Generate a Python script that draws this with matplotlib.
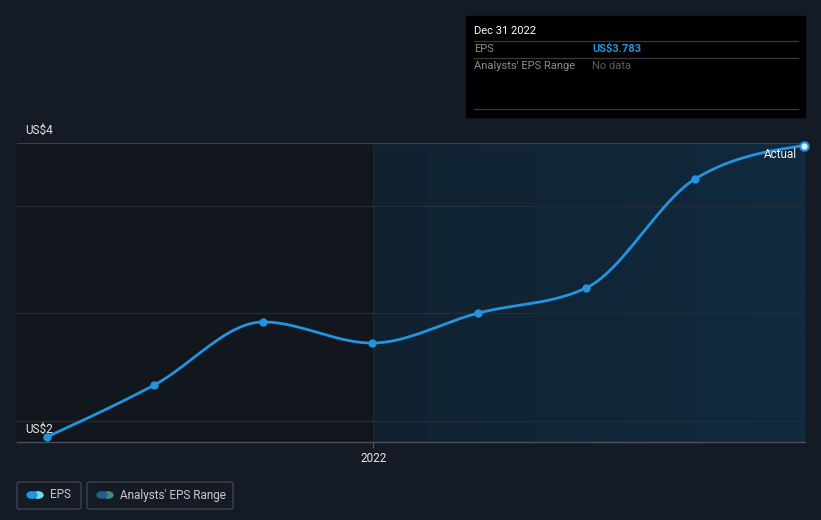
import numpy as np
import matplotlib
matplotlib.use("Agg")
import matplotlib.pyplot as plt
import matplotlib.dates as mdates
from matplotlib.patches import Rectangle, FancyBboxPatch, Circle
from datetime import date

plt.rcParams['font.family'] = ['Roboto', 'DejaVu Sans']

# data
dates = [date(2021, 3, 31), date(2021, 6, 30), date(2021, 9, 30), date(2021, 12, 31),
         date(2022, 3, 31), date(2022, 6, 30), date(2022, 9, 30), date(2022, 12, 31)]
eps = [1.833, 2.181, 2.603, 2.462, 2.663, 2.830, 3.559, 3.783]
grid_vals = [3.379, 2.663, 1.940]
y_labels = [("US$4", 3.8), ("US$2", 1.8)]
split_date = date(2022, 1, 1)

W, H = 821, 520
BG = "#151b24"
BLUE = "#2394df"

fig = plt.figure(figsize=(W / 100, H / 100), dpi=100, facecolor=BG)
ax = fig.add_axes([17 / W, (H - 442) / H, (805 - 17) / W, (442 - 143) / H])
ax.set_facecolor(BG)

x = mdates.date2num(dates)
y = np.array(eps)
xmin, xmax = mdates.date2num(date(2021, 3, 6)), mdates.date2num(date(2023, 1, 1))
ymin, ymax = 1.8, 3.8
xs = mdates.date2num(split_date)

# past / future backgrounds
ax.add_patch(Rectangle((xmin, ymin), xs - xmin, ymax - ymin, color="#12161d", zorder=0))
grad = np.linspace(0, 1, 256).reshape(1, -1)
cmap = matplotlib.colors.LinearSegmentedColormap.from_list("g", ["#10222f", "#112a40"])
ax.imshow(grad, extent=[xs, xmax, ymin, ymax], aspect="auto", cmap=cmap, zorder=0)
ax.axvline(xs, color="#172a30", lw=0.8, zorder=1)

for g in grid_vals:
    ax.axhline(g, color="#262d36", lw=0.9, zorder=1)
ax.axhline(ymax, color="#3a4049", lw=0.9, zorder=1)


# monotone cubic (d3 monotoneX style) for the line shape
def monotone(xp, yp, n=40):
    h = np.diff(xp)
    d = np.diff(yp) / h
    m = np.zeros_like(yp)
    for i in range(1, len(yp) - 1):
        if d[i - 1] * d[i] <= 0:
            m[i] = 0
        else:
            p = (d[i - 1] * h[i] + d[i] * h[i - 1]) / (h[i - 1] + h[i])
            m[i] = (np.sign(d[i - 1]) + np.sign(d[i])) * min(abs(d[i - 1]), abs(d[i]), 0.5 * abs(p))
    m[0] = (3 * d[0] - m[1]) / 2
    m[-1] = (3 * d[-1] - m[-2]) / 2
    xo, yo = [], []
    for i in range(len(h)):
        t = np.linspace(0, 1, n)
        h00 = 2 * t**3 - 3 * t**2 + 1
        h10 = t**3 - 2 * t**2 + t
        h01 = -2 * t**3 + 3 * t**2
        h11 = t**3 - t**2
        xo.extend(xp[i] + t * h[i])
        yo.extend(h00 * yp[i] + h10 * h[i] * m[i] + h01 * yp[i + 1] + h11 * h[i] * m[i + 1])
    return np.array(xo), np.array(yo)


sx, sy = monotone(x, y)
ax.plot(sx, sy, color=BLUE, lw=2.0, zorder=3, solid_capstyle="round")
ax.plot(x[:-1], y[:-1], "o", color=BLUE, ms=5, zorder=4)
ax.plot(x[-1:], y[-1:], "o", mfc="#d6ecfa", mec=BLUE, mew=1.5, ms=6, zorder=5, clip_on=False)

ax.set_xlim(xmin, xmax)
ax.set_ylim(ymin, ymax)
for s in ["top", "right", "left"]:
    ax.spines[s].set_visible(False)
ax.spines["bottom"].set_color("#4a5058")
ax.spines["bottom"].set_linewidth(1.0)
ax.set_yticks([])
ax.set_xticks([xs])
ax.set_xticklabels([str(split_date.year)])
ax.tick_params(axis="x", colors="#4a5058", length=4, width=1, labelcolor="#e6e6e6", labelsize=8.5, pad=3)

for lab, v in y_labels:
    ax.text(8 / (805 - 17), (v - ymin) / (ymax - ymin) + 0.02, lab, transform=ax.transAxes,
            color="#e6e6e6", fontsize=8.5, va="bottom", ha="left")

ax.text((797 - 17) / (805 - 17), 1 - (154 - 143) / (442 - 143), "Actual", transform=ax.transAxes,
        color="#f0f0f0", fontsize=8.5, ha="right", va="center", zorder=6)


# overlay helpers in pixel coords
def fx(px):
    return px / W


def fy(py):
    return 1 - py / H


# tooltip
fig.patches.append(Rectangle((fx(466), fy(117)), (805 - 466) / W, (117 - 16) / H,
                             transform=fig.transFigure, color="#000000", zorder=10))
for ly in [41, 58, 109]:
    fig.add_artist(plt.Line2D([fx(474), fx(798)], [fy(ly), fy(ly)], transform=fig.transFigure,
                              color="#3a3a3a", lw=0.9, zorder=11))
fig.text(fx(474), fy(31), "Dec 31 2022", color="#ffffff", fontsize=8, va="center", zorder=12)
fig.text(fx(474), fy(49), "EPS", color="#8c8c8c", fontsize=8, va="center", zorder=12)
fig.text(fx(592), fy(49), "US$%.3f" % eps[-1], color=BLUE, fontsize=8, fontweight="bold", va="center", zorder=12)
fig.text(fx(474), fy(66), "Analysts' EPS Range", color="#8c8c8c", fontsize=8, va="center", zorder=12)
fig.text(fx(592), fy(66), "No data", color="#5e5e5e", fontsize=8, va="center", zorder=12)

# legend
for x0, x1, c1, c2, label in [(17, 81, BLUE, "#6de0d8", "EPS"),
                              (87, 233, "#1f5f8f", "#3d8a80", "Analysts' EPS Range")]:
    fig.patches.append(FancyBboxPatch((fx(x0), fy(509)), (x1 - x0) / W, (509 - 482) / H,
                                      boxstyle="round,pad=0,rounding_size=0.003",
                                      transform=fig.transFigure, fc="none", ec="#3d434b", lw=1.0))
    fig.patches.append(Circle((fx(x0 + 21), fy(495)), 5 / W, transform=fig.transFigure, color=c2, zorder=2))
    fig.patches.append(Circle((fx(x0 + 15), fy(495)), 5 / W, transform=fig.transFigure, color=c1, zorder=3))
    fig.text(fx(x0 + 33), fy(495), label, color="#c8c8c8", fontsize=8.5, va="center")

fig.savefig("out.png", dpi=100, facecolor=BG)
